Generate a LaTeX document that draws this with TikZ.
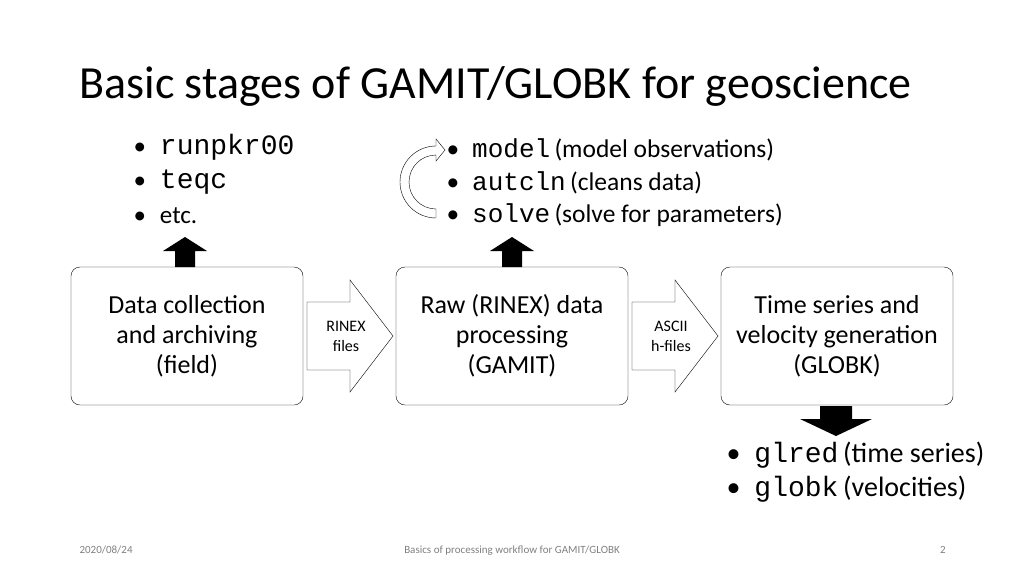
\documentclass[tikz,border=0pt]{standalone}
\usepackage{fontspec}
\setmainfont{Carlito}
\setmonofont{Liberation Mono}
\begin{document}
\begin{tikzpicture}[x=1pt,y=-1pt,
  box/.style={draw,rounded corners=9pt,minimum width=232pt,minimum height=138pt,align=center,font=\fontsize{26}{30}\selectfont},
  lbl/.style={font=\fontsize{16}{20}\selectfont,align=center},
  bul/.style={anchor=west,font=\fontsize{25}{27}\selectfont},
  foot/.style={font=\fontsize{11}{13}\selectfont,text=gray,anchor=base}]
\useasboundingbox (0,0) rectangle (1024,576);
\node[anchor=west,font=\fontsize{46}{50}\selectfont] (title) at (76,86) {Basic stages of GAMIT/GLOBK for geoscience};
\node[box] (b1) at (187,336) {Data collection\\and archiving\\(field)};
\node[box] (b2) at (512,336) {Raw (RINEX) data\\processing\\(GAMIT)};
\node[box] (b3) at (837,336) {Time series and\\velocity generation\\(GLOBK)};
\foreach \x in {307,632}{
 \draw (\x,302)--(\x+43,302)--(\x+43,280)--(\x+86,336)--(\x+43,392)--(\x+43,370)--(\x,370)--cycle;}
\node[lbl] (l1) at (346,336) {RINEX\\files};
\node[lbl] (l2) at (671,336) {ASCII\\h-files};
\foreach \x in {185,512}{
 \fill (\x-10,267)--(\x-10,251)--(\x-22,251)--(\x,237)--(\x+22,251)--(\x+10,251)--(\x+10,267)--cycle;}
\fill (820,406)--(852,406)--(852,419)--(872,419)--(836,436)--(800,419)--(820,419)--cycle;
\draw (436,218) arc[start angle=90,end angle=270,radius=36] -- (436,139) -- (445,150) -- (436,161) -- (436,155)
 arc[start angle=270,end angle=90,radius=27] -- cycle;
\node[bul] (t1) at (130,147) {•\hspace{14pt}{\fontsize{28}{28}\ttfamily runpkr00}};
\node[bul] (t2) at (130,182) {•\hspace{14pt}{\fontsize{28}{28}\ttfamily teqc}};
\node[bul] (t3) at (130,216) {•\hspace{14pt}etc.};
\begin{scope}[bul/.append style={font=\fontsize{25.5}{27}\selectfont}]
\node[bul] (m1) at (443,150) {•\hspace{13pt}{\fontsize{26}{26}\ttfamily model}\,(model observations)};
\node[bul] (m2) at (443,183) {•\hspace{13pt}{\fontsize{26}{26}\ttfamily autcln}\,(cleans data)};
\node[bul] (m3) at (443,215) {•\hspace{13pt}{\fontsize{26}{26}\ttfamily solve}\,(solve for parameters)};
\end{scope}
\begin{scope}[bul/.append style={font=\fontsize{28}{30}\selectfont}]
\node[bul] (g1) at (723,455) {•\hspace{14pt}{\fontsize{28}{28}\ttfamily glred}\,(time series)};
\node[bul] (g2) at (723,489) {•\hspace{14pt}{\fontsize{28}{28}\ttfamily globk}\,(velocities)};
\end{scope}
\node[foot,anchor=base west] (f1) at (76,553) {2020/08/24};
\node[foot] (f2) at (512,553) {Basics of processing workflow for GAMIT/GLOBK};
\node[foot] (f3) at (943,553) {2};
\end{tikzpicture}
\end{document}
